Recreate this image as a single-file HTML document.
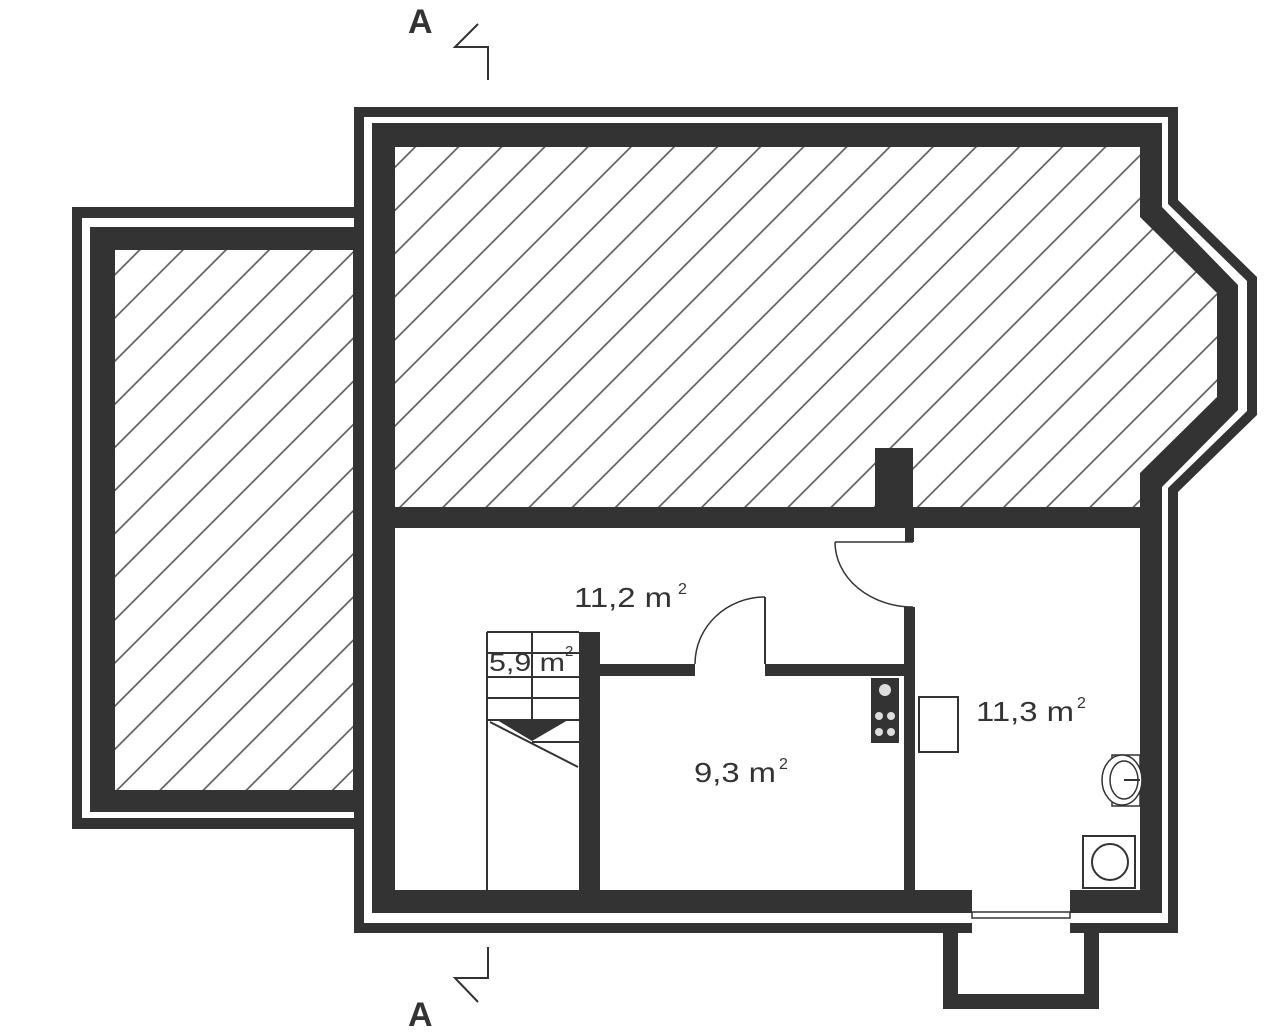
<!DOCTYPE html>
<html><head><meta charset="utf-8"><style>
html,body{margin:0;padding:0;background:#fff;}
svg{display:block;}
text{font-family:"Liberation Sans","DejaVu Sans",sans-serif;fill:#333;}
</style></head><body>
<svg width="1280" height="1034" viewBox="0 0 1280 1034" xmlns="http://www.w3.org/2000/svg">
<defs>
<pattern id="h" patternUnits="userSpaceOnUse" width="30.5" height="30" patternTransform="rotate(45)">
<rect width="30.5" height="30" fill="#fff"/>
<line x1="1" y1="0" x2="1" y2="30" stroke="#555" stroke-width="1.6"/>
</pattern>
</defs>
<!-- left wing -->
<rect x="72" y="207" width="282" height="622" fill="#333"/>
<rect x="82" y="218" width="272" height="600" fill="#fff"/>
<rect x="90" y="227" width="264" height="585" fill="#333"/>
<rect x="115" y="250" width="238" height="540" fill="url(#h)"/>
<!-- main -->
<polygon points="354,107 1178,107 1178,200 1257,277 1257,415 1178,492 1178,933 354,933" fill="#333"/>
<polygon points="364,117 1168,117 1168,204 1247,281 1247,411 1168,488 1168,923 364,923" fill="#fff"/>
<polygon points="372,123 1162,123 1162,207 1238,285 1238,410 1162,487 1162,913 372,913" fill="#333"/>
<polygon points="395,147 1140,147 1140,217 1217,293 1217,397 1140,473 1140,507 395,507" fill="url(#h)"/>
<rect x="395" y="528" width="745" height="362" fill="#fff"/>
<!-- chimney -->
<rect x="875" y="448" width="38" height="60" fill="#333"/>
<rect x="905" y="527" width="9" height="15" fill="#333"/>
<!-- right room wall -->
<rect x="904" y="607" width="11" height="284" fill="#333"/>
<!-- door to right room -->
<line x1="835" y1="542" x2="913" y2="542" stroke="#333" stroke-width="1.5"/>
<path d="M835,542 A78,65 0 0 0 913,607" fill="none" stroke="#333" stroke-width="1.5"/>
<!-- middle wall -->
<rect x="580" y="664" width="115" height="12" fill="#333"/>
<rect x="765" y="664" width="140" height="12" fill="#333"/>
<line x1="765" y1="597" x2="765" y2="664" stroke="#333" stroke-width="2"/>
<path d="M765,597 A70,67 0 0 0 695,664" fill="none" stroke="#333" stroke-width="1.5"/>
<!-- stair wall -->
<rect x="579" y="632" width="21" height="259" fill="#333"/>
<!-- stairs -->
<g stroke="#333" stroke-width="2" fill="none">
<line x1="487" y1="632" x2="487" y2="890"/>
<line x1="487" y1="632" x2="579" y2="632"/>
<line x1="532" y1="632" x2="532" y2="720"/>
<line x1="487" y1="653" x2="579" y2="653"/>
<line x1="487" y1="677" x2="579" y2="677"/>
<line x1="487" y1="698" x2="579" y2="698"/>
<line x1="487" y1="720" x2="579" y2="720"/>
<line x1="532" y1="742" x2="579" y2="742"/>
<line x1="490" y1="722" x2="578" y2="767"/>
</g>
<polygon points="497,720 568,720 532,741" fill="#333"/>
<!-- stove -->
<rect x="871" y="678" width="28" height="65" fill="#333"/>
<g fill="#ddd"><circle cx="885" cy="690" r="6"/><circle cx="879" cy="716" r="4"/><circle cx="891" cy="716" r="4"/><circle cx="879" cy="732" r="4"/><circle cx="891" cy="732" r="4"/></g>
<!-- table -->
<rect x="919" y="697" width="39" height="55" fill="#fff" stroke="#333" stroke-width="2"/>
<!-- sink -->
<rect x="1112" y="755" width="28" height="51" fill="#fff" stroke="#333" stroke-width="1.5"/>
<ellipse cx="1122" cy="780" rx="20" ry="25" fill="#fff" stroke="#333" stroke-width="1.5"/>
<ellipse cx="1124" cy="780" rx="14" ry="19" fill="#fff" stroke="#333" stroke-width="1.5"/>
<line x1="1124" y1="780" x2="1140" y2="780" stroke="#333" stroke-width="2"/>
<!-- washer -->
<rect x="1083" y="836" width="52" height="52" fill="#fff" stroke="#333" stroke-width="2"/>
<circle cx="1110" cy="862" r="18" fill="#fff" stroke="#333" stroke-width="2"/>
<!-- entry door -->
<rect x="972" y="890" width="98" height="43" fill="#fff"/>
<rect x="972" y="912" width="98" height="6" fill="#fff" stroke="#333" stroke-width="1.5"/>
<!-- porch -->
<path d="M943,933 L943,1009 L1099,1009 L1099,933 L1084,933 L1084,994 L958,994 L958,933 Z" fill="#333"/>
<!-- section markers -->
<text x="408" y="33" font-size="34" font-weight="bold">A</text>
<polyline points="478,24 455,47 488,47 488,80" fill="none" stroke="#333" stroke-width="2"/>
<text x="408" y="1026" font-size="34" font-weight="bold">A</text>
<polyline points="488,947 488,978 455,978 478,1002" fill="none" stroke="#333" stroke-width="2"/>
<!-- labels -->
<text x="574" y="607" font-size="28" textLength="98" lengthAdjust="spacingAndGlyphs">11,2 m</text><text x="678" y="594" font-size="16">2</text>
<text x="489" y="671" font-size="25" textLength="76" lengthAdjust="spacingAndGlyphs">5,9 m</text><text x="565" y="656" font-size="15">2</text>
<text x="694" y="782" font-size="28" textLength="82" lengthAdjust="spacingAndGlyphs">9,3 m</text><text x="779" y="769" font-size="16">2</text>
<text x="976" y="721" font-size="28" textLength="98" lengthAdjust="spacingAndGlyphs">11,3 m</text><text x="1077" y="708" font-size="16">2</text>
</svg>
</body></html>
